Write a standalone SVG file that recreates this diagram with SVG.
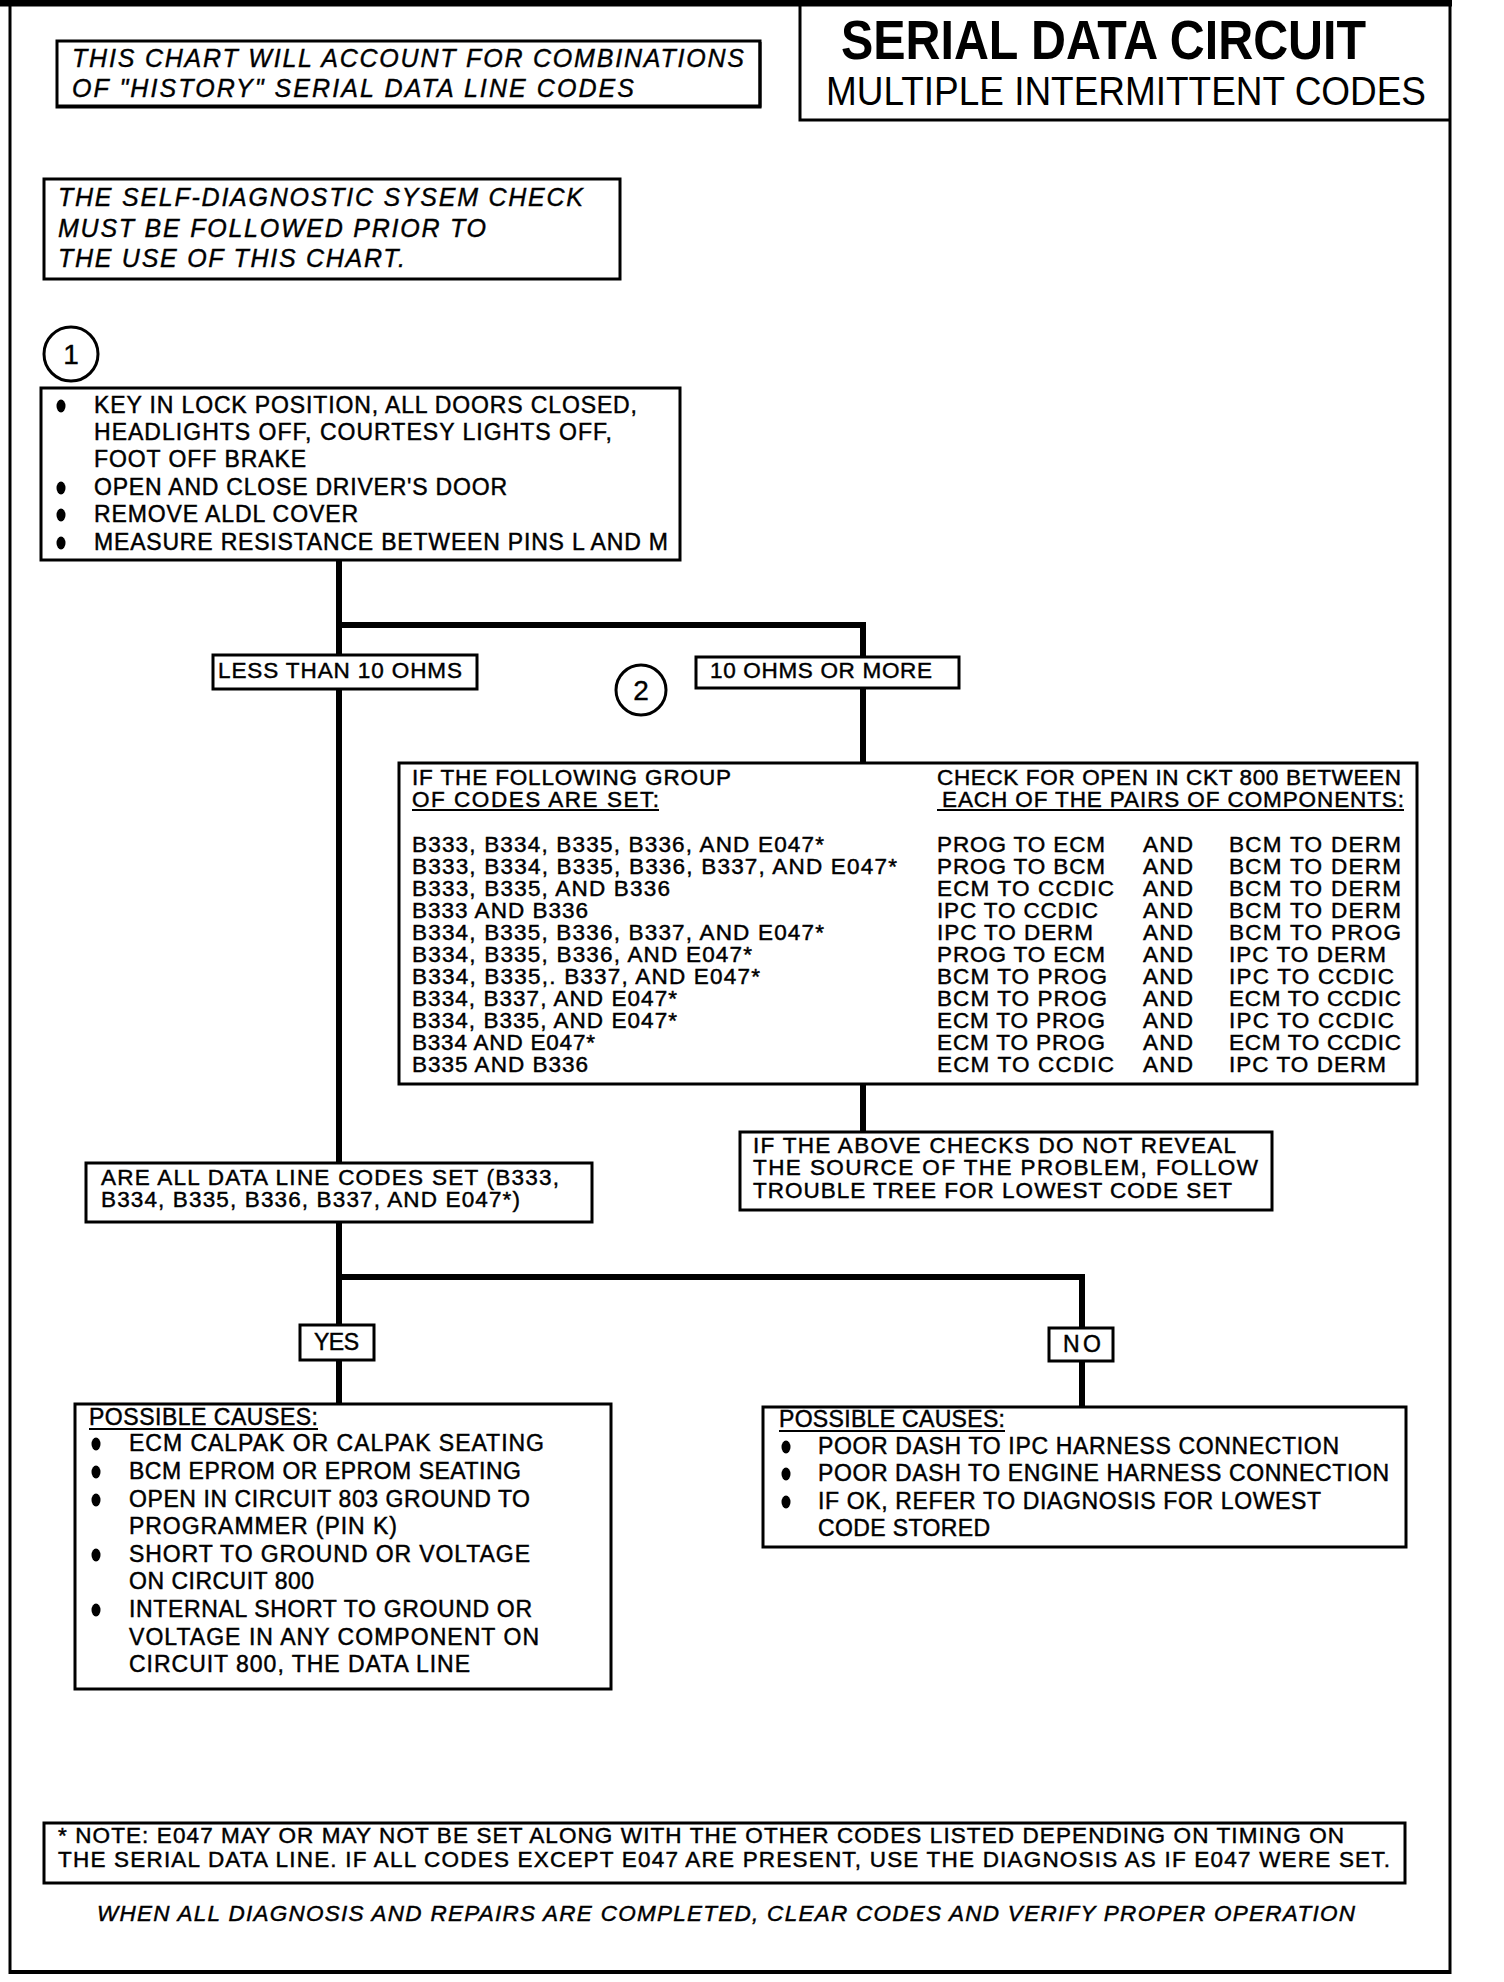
<svg xmlns="http://www.w3.org/2000/svg" width="1504" height="1982" viewBox="0 0 1504 1982">
<style>
.b{fill:#fff;stroke:#000;stroke-width:3}
.c{fill:none;stroke:#000;stroke-width:6}
.fr{fill:none;stroke:#000}
text{font-family:"Liberation Sans",Arial,Helvetica,sans-serif;fill:#000}
.t{font-size:22.5px;stroke:#000;stroke-width:0.45}
.m{font-size:23px;stroke:#000;stroke-width:0.45}
.i{font-style:italic;font-size:25px;stroke:#000;stroke-width:0.4}
.u{stroke:#000;stroke-width:1.8}
.dot{fill:#000}
</style>
<rect width="1504" height="1982" fill="#fff"/>
<g id="frame">
<line class="fr" x1="0" y1="3" x2="1452" y2="3" stroke-width="7"/>
<line class="fr" x1="10" y1="0" x2="10" y2="1974" stroke-width="3"/>
<line class="fr" x1="1450" y1="0" x2="1450" y2="1974" stroke-width="3"/>
<line class="fr" x1="9" y1="1972" x2="1451" y2="1972" stroke-width="4"/>
</g>
<g id="title">
<polyline class="fr" points="800,5 800,120 1450,120" stroke-width="3"/>
<text x="841" y="59" font-size="56" font-weight="bold" textLength="525" lengthAdjust="spacingAndGlyphs">SERIAL DATA CIRCUIT</text>
<text x="826" y="105" font-size="41" textLength="600" lengthAdjust="spacingAndGlyphs">MULTIPLE INTERMITTENT CODES</text>
</g>
<g id="connectors">
<path class="c" d="M339 560 V1404"/>
<path class="c" d="M339 625 H863 V763"/>
<path class="c" d="M863 1084 V1132"/>
<path class="c" d="M339 1277 H1082 V1407"/>
</g>
<g id="note-history">
<rect class="b" x="57" y="41" width="703" height="66"/>
<polyline class="fr" points="58,106 760,106 760,42" stroke-width="3"/>
<text class="i" x="72" y="67" textLength="672">THIS CHART WILL ACCOUNT FOR COMBINATIONS</text>
<text class="i" x="72" y="97" textLength="562">OF "HISTORY" SERIAL DATA LINE CODES</text>
</g>
<g id="note-selfdiag">
<rect class="b" x="44" y="179" width="576" height="100" stroke-width="4"/>
<text class="i" x="58" y="206" textLength="525">THE SELF-DIAGNOSTIC SYSEM CHECK</text>
<text class="i" x="58" y="237" textLength="428">MUST BE FOLLOWED PRIOR TO</text>
<text class="i" x="58" y="267" textLength="347">THE USE OF THIS CHART.</text>
</g>
<g id="step1-marker">
<circle cx="71" cy="354" r="27" fill="#fff" stroke="#000" stroke-width="3"/>
<text x="71" y="364" font-size="28" text-anchor="middle" stroke="#000" stroke-width="0.4">1</text>
</g>
<g id="step1">
<rect class="b" x="41" y="388" width="639" height="172"/>
<ellipse class="dot" cx="61" cy="406" rx="4.5" ry="6.5"/>
<ellipse class="dot" cx="61" cy="488" rx="4.5" ry="6.5"/>
<ellipse class="dot" cx="61" cy="515" rx="4.5" ry="6.5"/>
<ellipse class="dot" cx="61" cy="543" rx="4.5" ry="6.5"/>
<text class="m" x="94" y="413" textLength="543">KEY IN LOCK POSITION, ALL DOORS CLOSED,</text>
<text class="m" x="94" y="440" textLength="518">HEADLIGHTS OFF, COURTESY LIGHTS OFF,</text>
<text class="m" x="94" y="467" textLength="212">FOOT OFF BRAKE</text>
<text class="m" x="94" y="495" textLength="413">OPEN AND CLOSE DRIVER'S DOOR</text>
<text class="m" x="94" y="522" textLength="264">REMOVE ALDL COVER</text>
<text class="m" x="94" y="550" textLength="574">MEASURE RESISTANCE BETWEEN PINS L AND M</text>
</g>
<g id="less-than-10">
<rect class="b" x="213" y="655" width="264" height="34"/>
<text class="t" x="218" y="678" textLength="244">LESS THAN 10 OHMS</text>
</g>
<g id="step2-marker">
<circle cx="641" cy="690" r="25" fill="#fff" stroke="#000" stroke-width="3"/>
<text x="641" y="700" font-size="28" text-anchor="middle" stroke="#000" stroke-width="0.4">2</text>
</g>
<g id="ten-or-more">
<rect class="b" x="696" y="657" width="263" height="31"/>
<text class="t" x="710" y="678" textLength="222">10 OHMS OR MORE</text>
</g>
<g id="code-table">
<rect class="b" x="399" y="763" width="1018" height="321"/>
<text class="t" x="412" y="785" textLength="319">IF THE FOLLOWING GROUP</text>
<text class="t" x="412" y="807" textLength="247">OF CODES ARE SET:</text>
<line class="u" x1="412" y1="810" x2="659" y2="810"/>
<text class="t" x="937" y="785" textLength="464">CHECK FOR OPEN IN CKT 800 BETWEEN</text>
<text class="t" x="942" y="807" textLength="462">EACH OF THE PAIRS OF COMPONENTS:</text>
<line class="u" x1="937" y1="810" x2="1404" y2="810"/>
<text class="t" x="412" y="852" textLength="412">B333, B334, B335, B336, AND E047*</text>
<text class="t" x="412" y="874" textLength="485">B333, B334, B335, B336, B337, AND E047*</text>
<text class="t" x="412" y="896" textLength="258">B333, B335, AND B336</text>
<text class="t" x="412" y="918" textLength="176">B333 AND B336</text>
<text class="t" x="412" y="940" textLength="412">B334, B335, B336, B337, AND E047*</text>
<text class="t" x="412" y="962" textLength="340">B334, B335, B336, AND E047*</text>
<text class="t" x="412" y="984" textLength="348">B334, B335,. B337, AND E047*</text>
<text class="t" x="412" y="1006" textLength="265">B334, B337, AND E047*</text>
<text class="t" x="412" y="1028" textLength="265">B334, B335, AND E047*</text>
<text class="t" x="412" y="1050" textLength="183">B334 AND E047*</text>
<text class="t" x="412" y="1072" textLength="176">B335 AND B336</text>
<text class="t" x="937" y="852" textLength="168">PROG TO ECM</text>
<text class="t" x="937" y="874" textLength="168">PROG TO BCM</text>
<text class="t" x="937" y="896" textLength="177">ECM TO CCDIC</text>
<text class="t" x="937" y="918" textLength="161">IPC TO CCDIC</text>
<text class="t" x="937" y="940" textLength="156">IPC TO DERM</text>
<text class="t" x="937" y="962" textLength="168">PROG TO ECM</text>
<text class="t" x="937" y="984" textLength="170">BCM TO PROG</text>
<text class="t" x="937" y="1006" textLength="170">BCM TO PROG</text>
<text class="t" x="937" y="1028" textLength="168">ECM TO PROG</text>
<text class="t" x="937" y="1050" textLength="168">ECM TO PROG</text>
<text class="t" x="937" y="1072" textLength="177">ECM TO CCDIC</text>
<text class="t" x="1143" y="852" textLength="50">AND</text>
<text class="t" x="1143" y="874" textLength="50">AND</text>
<text class="t" x="1143" y="896" textLength="50">AND</text>
<text class="t" x="1143" y="918" textLength="50">AND</text>
<text class="t" x="1143" y="940" textLength="50">AND</text>
<text class="t" x="1143" y="962" textLength="50">AND</text>
<text class="t" x="1143" y="984" textLength="50">AND</text>
<text class="t" x="1143" y="1006" textLength="50">AND</text>
<text class="t" x="1143" y="1028" textLength="50">AND</text>
<text class="t" x="1143" y="1050" textLength="50">AND</text>
<text class="t" x="1143" y="1072" textLength="50">AND</text>
<text class="t" x="1229" y="852" textLength="172">BCM TO DERM</text>
<text class="t" x="1229" y="874" textLength="172">BCM TO DERM</text>
<text class="t" x="1229" y="896" textLength="172">BCM TO DERM</text>
<text class="t" x="1229" y="918" textLength="172">BCM TO DERM</text>
<text class="t" x="1229" y="940" textLength="172">BCM TO PROG</text>
<text class="t" x="1229" y="962" textLength="157">IPC TO DERM</text>
<text class="t" x="1229" y="984" textLength="165">IPC TO CCDIC</text>
<text class="t" x="1229" y="1006" textLength="172">ECM TO CCDIC</text>
<text class="t" x="1229" y="1028" textLength="165">IPC TO CCDIC</text>
<text class="t" x="1229" y="1050" textLength="172">ECM TO CCDIC</text>
<text class="t" x="1229" y="1072" textLength="157">IPC TO DERM</text>
</g>
<g id="above-checks">
<rect class="b" x="740" y="1132" width="532" height="78"/>
<text class="t" x="753" y="1153" textLength="483">IF THE ABOVE CHECKS DO NOT REVEAL</text>
<text class="t" x="753" y="1175" textLength="505">THE SOURCE OF THE PROBLEM, FOLLOW</text>
<text class="t" x="753" y="1198" textLength="479">TROUBLE TREE FOR LOWEST CODE SET</text>
</g>
<g id="all-codes-question">
<rect class="b" x="86" y="1163" width="506" height="59"/>
<text class="t" x="101" y="1185" textLength="458">ARE ALL DATA LINE CODES SET (B333,</text>
<text class="t" x="101" y="1207" textLength="419">B334, B335, B336, B337, AND E047*)</text>
</g>
<g id="yes">
<rect class="b" x="300" y="1325" width="74" height="35"/>
<text class="m" x="314" y="1350" textLength="45">YES</text>
</g>
<g id="no">
<rect class="b" x="1049" y="1328" width="64" height="33"/>
<text class="m" x="1063" y="1352" textLength="38">NO</text>
</g>
<g id="causes-yes">
<rect class="b" x="75" y="1404" width="536" height="285"/>
<text class="m" x="89" y="1425" textLength="229">POSSIBLE CAUSES:</text>
<line class="u" x1="89" y1="1429" x2="318" y2="1429"/>
<ellipse class="dot" cx="96" cy="1444" rx="4.5" ry="6.5"/>
<ellipse class="dot" cx="96" cy="1472" rx="4.5" ry="6.5"/>
<ellipse class="dot" cx="96" cy="1500" rx="4.5" ry="6.5"/>
<ellipse class="dot" cx="96" cy="1555" rx="4.5" ry="6.5"/>
<ellipse class="dot" cx="96" cy="1610" rx="4.5" ry="6.5"/>
<text class="m" x="129" y="1451" textLength="415">ECM CALPAK OR CALPAK SEATING</text>
<text class="m" x="129" y="1479" textLength="392">BCM EPROM OR EPROM SEATING</text>
<text class="m" x="129" y="1507" textLength="401">OPEN IN CIRCUIT 803 GROUND TO</text>
<text class="m" x="129" y="1534" textLength="268">PROGRAMMER (PIN K)</text>
<text class="m" x="129" y="1562" textLength="401">SHORT TO GROUND OR VOLTAGE</text>
<text class="m" x="129" y="1589" textLength="185">ON CIRCUIT 800</text>
<text class="m" x="129" y="1617" textLength="403">INTERNAL SHORT TO GROUND OR</text>
<text class="m" x="129" y="1645" textLength="410">VOLTAGE IN ANY COMPONENT ON</text>
<text class="m" x="129" y="1672" textLength="341">CIRCUIT 800, THE DATA LINE</text>
</g>
<g id="causes-no">
<rect class="b" x="763" y="1407" width="643" height="140"/>
<text class="m" x="779" y="1427" textLength="226">POSSIBLE CAUSES:</text>
<line class="u" x1="779" y1="1431" x2="1005" y2="1431"/>
<ellipse class="dot" cx="786" cy="1447" rx="4.5" ry="6.5"/>
<ellipse class="dot" cx="786" cy="1474" rx="4.5" ry="6.5"/>
<ellipse class="dot" cx="786" cy="1502" rx="4.5" ry="6.5"/>
<text class="m" x="818" y="1454" textLength="521">POOR DASH TO IPC HARNESS CONNECTION</text>
<text class="m" x="818" y="1481" textLength="571">POOR DASH TO ENGINE HARNESS CONNECTION</text>
<text class="m" x="818" y="1509" textLength="503">IF OK, REFER TO DIAGNOSIS FOR LOWEST</text>
<text class="m" x="818" y="1536" textLength="172">CODE STORED</text>
</g>
<g id="footnote">
<rect class="b" x="44" y="1823" width="1361" height="60" stroke-width="3.5"/>
<text class="t" x="58" y="1843" textLength="1286">* NOTE: E047 MAY OR MAY NOT BE SET ALONG WITH THE OTHER CODES LISTED DEPENDING ON TIMING ON</text>
<text class="t" x="58" y="1867" textLength="1332">THE SERIAL DATA LINE. IF ALL CODES EXCEPT E047 ARE PRESENT, USE THE DIAGNOSIS AS IF E047 WERE SET.</text>
</g>
<g id="closing">
<text class="t" x="97" y="1921" font-style="italic" textLength="1258">WHEN ALL DIAGNOSIS AND REPAIRS ARE COMPLETED, CLEAR CODES AND VERIFY PROPER OPERATION</text>
</g>
</svg>
